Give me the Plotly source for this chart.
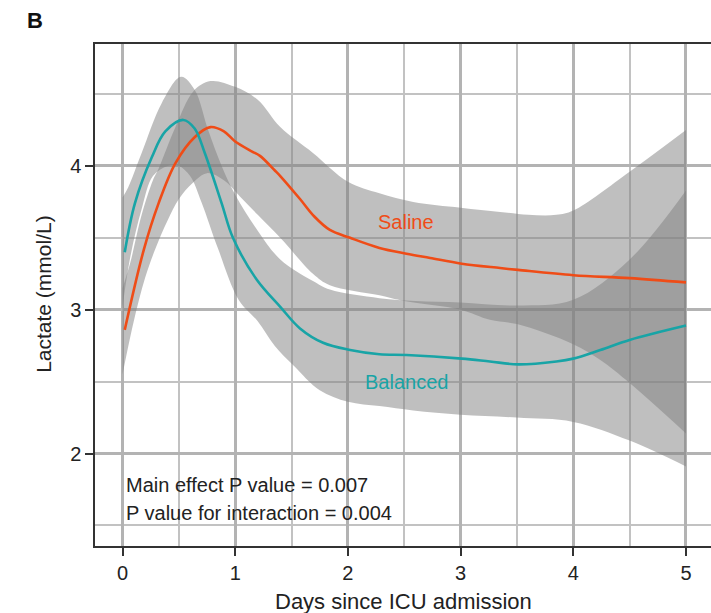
import plotly.graph_objects as go

# Fitted lactate trajectories (mmol/L) by day since ICU admission
saline_x = [0.02, 0.19, 0.32, 0.47, 0.64, 0.78, 0.90, 1.00, 1.15, 1.22, 1.35, 1.40, 1.575, 1.70,
            1.84, 2.02, 2.28, 2.52, 2.73, 3.01, 3.35, 3.51, 4.00, 4.50, 5.00]
saline_y = [2.86, 3.42, 3.74, 4.02, 4.20, 4.27, 4.24, 4.17, 4.10, 4.07, 3.97, 3.93, 3.77, 3.65,
            3.555, 3.50, 3.43, 3.39, 3.36, 3.32, 3.29, 3.277, 3.24, 3.22, 3.19]

balanced_x = [0.02, 0.11, 0.26, 0.38, 0.54, 0.64, 0.73, 0.88, 0.98, 1.19, 1.40, 1.575, 1.78,
              2.02, 2.28, 2.52, 3.01, 3.26, 3.51, 3.85, 4.00, 4.24, 4.50, 5.00]
balanced_y = [3.40, 3.74, 4.06, 4.24, 4.32, 4.26, 4.09, 3.74, 3.50, 3.21, 3.02, 2.87, 2.77,
              2.72, 2.69, 2.685, 2.66, 2.64, 2.62, 2.64, 2.66, 2.72, 2.79, 2.89]

# 95% confidence bands
saline_hi_x = [0.0, 0.07, 0.17, 0.27, 0.32, 0.47, 0.63, 0.78, 1.0, 1.2, 1.4, 1.69, 2.0, 2.28,
               2.58, 3.0, 3.35, 3.6, 3.85, 4.0, 4.5, 5.0]
saline_hi_y = [3.15, 3.33, 3.66, 3.90, 3.98, 4.27, 4.52, 4.59, 4.55, 4.46, 4.27, 4.09, 3.89, 3.81,
               3.75, 3.71, 3.68, 3.66, 3.66, 3.69, 3.96, 4.25]
saline_lo_x = [0.0, 0.1, 0.2, 0.29, 0.4, 0.5, 0.62, 0.75, 0.9, 1.04, 1.2, 1.4, 1.69, 1.84, 2.28,
               2.5, 3.0, 3.26, 3.5, 4.0, 4.24, 4.5, 5.0]
saline_lo_y = [2.55, 2.92, 3.22, 3.42, 3.62, 3.77, 3.88, 3.95, 3.90, 3.79, 3.66, 3.50, 3.25, 3.17,
               3.10, 3.06, 3.00, 2.93, 2.90, 2.76, 2.65, 2.49, 2.14]

balanced_hi_x = [0.0, 0.05, 0.17, 0.35, 0.52, 0.64, 0.76, 0.88, 1.0, 1.2, 1.4, 1.69, 1.84, 2.28,
                 2.6, 3.0, 3.5, 4.0, 4.5, 5.0]
balanced_hi_y = [3.78, 3.85, 4.09, 4.44, 4.62, 4.53, 4.25, 4.00, 3.80, 3.55, 3.35, 3.20, 3.14, 3.08,
                 3.06, 3.05, 3.03, 3.07, 3.35, 3.83]
balanced_lo_x = [0.0, 0.07, 0.17, 0.27, 0.4, 0.5, 0.6, 0.7, 0.85, 1.03, 1.2, 1.35, 1.52, 1.75,
                 2.0, 2.28, 2.58, 3.0, 3.5, 4.0, 4.5, 5.0]
balanced_lo_y = [3.02, 3.37, 3.70, 3.93, 4.00, 4.00, 3.93, 3.75, 3.42, 3.07, 2.92, 2.75, 2.61, 2.44,
                 2.36, 2.33, 2.30, 2.27, 2.25, 2.22, 2.09, 1.91]

x_ticks = [0, 1, 2, 3, 4, 5]
y_ticks = [2, 3, 4]

SALINE = "#EF4C17"
BALANCED = "#18A4A6"
BAND = "rgba(128,128,128,0.5)"
FONT = "Liberation Sans, Arial, Helvetica, sans-serif"
INK = "#222222"

fig = go.Figure()

def band(lx, ly, hx, hy):
    fig.add_trace(go.Scatter(x=lx, y=ly, mode="lines", line=dict(width=0, shape="spline", smoothing=1.0),
                             hoverinfo="skip", showlegend=False))
    fig.add_trace(go.Scatter(x=hx, y=hy, mode="lines", line=dict(width=0, shape="spline", smoothing=1.0),
                             fill="tonexty", fillcolor=BAND, hoverinfo="skip", showlegend=False))

band(balanced_lo_x, balanced_lo_y, balanced_hi_x, balanced_hi_y)
band(saline_lo_x, saline_lo_y, saline_hi_x, saline_hi_y)

fig.add_trace(go.Scatter(x=saline_x, y=saline_y, mode="lines", name="Saline",
                         line=dict(color=SALINE, width=2.6, shape="spline", smoothing=1.0),
                         showlegend=False))
fig.add_trace(go.Scatter(x=balanced_x, y=balanced_y, mode="lines", name="Balanced",
                         line=dict(color=BALANCED, width=2.6, shape="spline", smoothing=1.0),
                         showlegend=False))

annotations = [
    dict(x=2.52, y=3.61, xref="x", yref="y", text="Saline", showarrow=False,
         font=dict(size=20, color=SALINE, family=FONT)),
    dict(x=2.52, y=2.50, xref="x", yref="y", text="Balanced", showarrow=False,
         font=dict(size=20, color=BALANCED, family=FONT)),
    dict(x=0.013, y=1.78, xref="x", yref="y", text="Main effect P value = 0.007", showarrow=False,
         xanchor="left", font=dict(size=20, color=INK, family=FONT)),
    dict(x=0.013, y=1.587, xref="x", yref="y", text="P value for interaction = 0.004", showarrow=False,
         xanchor="left", font=dict(size=20, color=INK, family=FONT)),
    dict(x=-0.097, y=1.046, xref="paper", yref="paper", text="<b>B</b>", showarrow=False,
         xanchor="center", yanchor="middle", font=dict(size=22, color="#111111", family=FONT)),
    dict(x=-0.083, y=0.502, xref="paper", yref="paper", text="Lactate (mmol/L)", textangle=-90,
         xanchor="center", yanchor="middle",
         showarrow=False, font=dict(size=21, color=INK, family=FONT)),
    dict(x=0.500, y=-0.111, xref="paper", yref="paper", text="Days since ICU admission",
         xanchor="center", yanchor="middle",
         showarrow=False, font=dict(size=22, color=INK, family=FONT)),
]

fig.update_layout(
    width=711, height=613,
    margin=dict(l=95, r=0, t=44, b=67),
    paper_bgcolor="white", plot_bgcolor="white",
    font=dict(family=FONT, color=INK),
    annotations=annotations,
    xaxis=dict(range=[-0.244, 5.222], tickmode="array", tickvals=x_ticks,
               ticks="outside", ticklen=8, tickwidth=1.5, tickcolor="#333333",
               tickfont=dict(size=20, color=INK, family=FONT),
               showline=True, linecolor="#333333", linewidth=1.5, mirror=True,
               showgrid=True, gridcolor="#b3b3b3", gridwidth=2.5, zeroline=False,
               minor=dict(dtick=0.5, tick0=0, showgrid=True, gridcolor="#c2c2c2", gridwidth=2)),
    yaxis=dict(range=[1.357, 4.848], tickmode="array", tickvals=y_ticks,
               ticks="outside", ticklen=8, tickwidth=1.5, tickcolor="#333333",
               tickfont=dict(size=20, color=INK, family=FONT),
               showline=True, linecolor="#333333", linewidth=1.5,
               showgrid=True, gridcolor="#b3b3b3", gridwidth=2.5, zeroline=False,
               minor=dict(dtick=0.5, tick0=0, showgrid=True, gridcolor="#c2c2c2", gridwidth=2)),
)

fig.write_html("out.html")
